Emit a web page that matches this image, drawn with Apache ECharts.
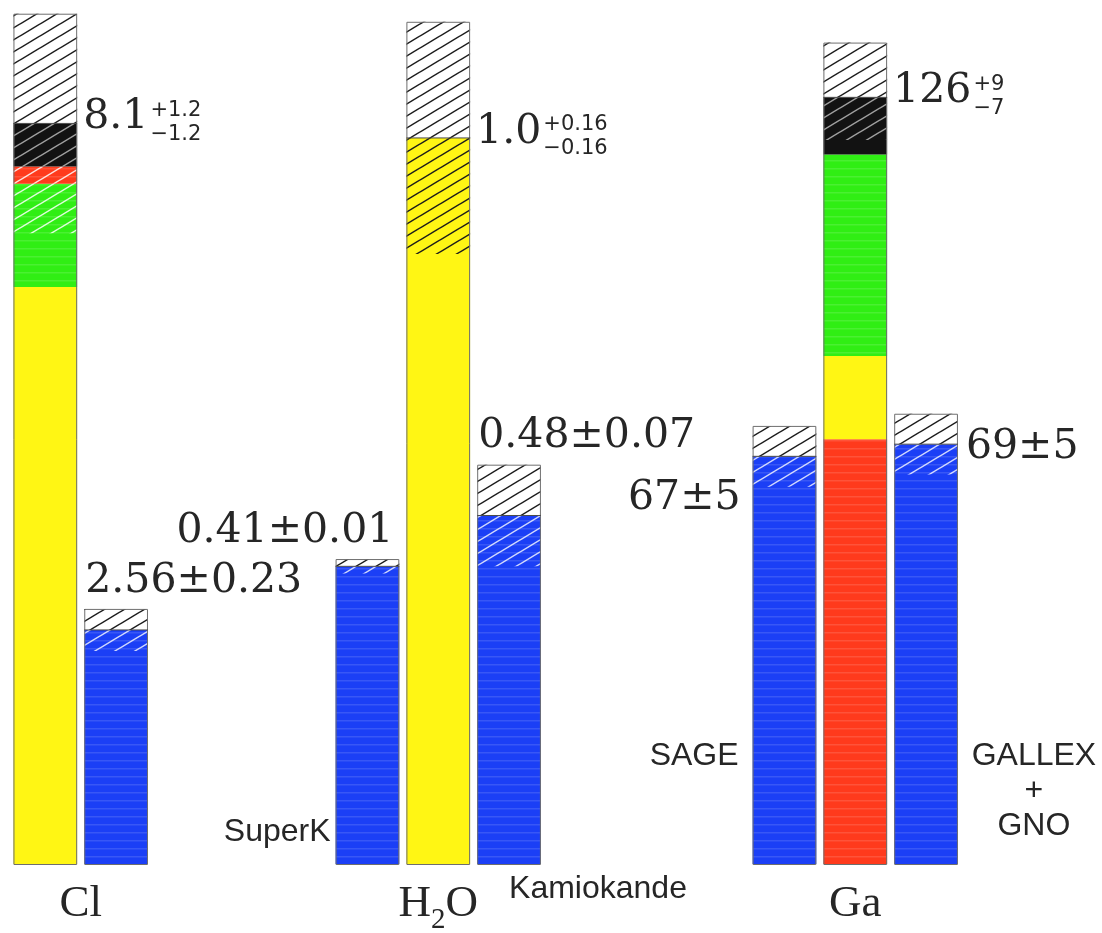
<!DOCTYPE html>
<html>
<head>
<meta charset="utf-8">
<title>Solar neutrino rates: theory vs experiment</title>
<script src="https://cdn.jsdelivr.net/npm/echarts@6/dist/echarts.min.js"></script>
<style>
  html, body { margin: 0; padding: 0; background: #ffffff; }
  #chart { width: 1102px; height: 933px; }
</style>
</head>
<body>
<div id="chart"></div>
<script>
// ---- Targets -------------------------------------------------------------
const targets = ['Cl', 'H2O', 'Ga'];

// ---- Standard solar model contributions (stacked bottom to top) ----------
const clSources = ['8B', '7Be', 'pep', 'CNO'];
const clFlux = [6.31, 1.13, 0.19, 0.47];          // SNU
const h2oSources = ['8B'];
const h2oFlux = [1.0];                             // relative to model
const gaSources = ['pp', '8B', '7Be', 'CNO'];
const gaFlux = [69.8, 13.7, 33.1, 9.4];           // SNU

// ---- Model totals and asymmetric uncertainties ---------------------------
const theoryTotal = [8.1, 1.0, 126];
const theoryPlus = [1.2, 0.16, 9];
const theoryMinus = [1.2, 0.16, 7];
const theoryDecimals = [1, 1, 0];
const theoryErrDecimals = [1, 2, 0];

// ---- Measurements --------------------------------------------------------
const expNames = ['Homestake', 'SuperK', 'Kamiokande', 'SAGE', 'GALLEX + GNO'];
const expTarget = [0, 1, 1, 2, 2];
const expValue = [2.56, 0.41, 0.48, 67, 69];
const expError = [0.23, 0.01, 0.07, 5, 5];
const expDecimals = [2, 2, 2, 0, 0];

// ---- Layout: bar slots along x, vertical range of each target's scale ----
const theorySlot = [0, 5.55, 11.44];
const expSlotOffset = [1, -1, 1, -1, 1];
const expLabelPlace = ['above', 'aboveRight', 'above', 'left', 'right'];
const expNamePlace = ['none', 'leftLow', 'below', 'left', 'right'];
const yMax = [9.45, 1.19, 142];
const BAR = 0.9;

// ---- Styling -------------------------------------------------------------
const sourceColor = { pp: '#ff3a1c', pep: '#ff3a1c', '8B': '#fff614', '7Be': '#30ee14', CNO: '#121212' };
const sourceInk = { pp: 'rgba(255,255,255,0.85)', pep: 'rgba(255,255,255,0.85)', '8B': '#1c1c1c',
                    '7Be': 'rgba(255,255,255,0.85)', CNO: '#a0a0a0' };
const sourceBanded = { pp: true, pep: true, '8B': false, '7Be': true, CNO: false };
const expColor = '#1b3ff6';
const expInk = 'rgba(255,255,255,0.8)';
const textColor = '#262626';
const numFont = 'DejaVu Serif';
const supFont = 'DejaVu Sans';
const nameFont = 'Liberation Sans';
const targetFont = 'Liberation Serif';

// Diagonal hatch fill ("/" lines), cached per ink colour
const hatchCache = {};
function hatch(ink) {
  if (hatchCache[ink]) return hatchCache[ink];
  const W = 20, H = 12;
  const c = document.createElement('canvas');
  c.width = W; c.height = H;
  const ctx = c.getContext('2d');
  ctx.strokeStyle = ink;
  ctx.lineWidth = 1.5;
  for (let k = -1; k <= 1; k++) {
    ctx.beginPath();
    ctx.moveTo(-W, 2 * H + k * H);
    ctx.lineTo(2 * W, -H + k * H);
    ctx.stroke();
  }
  return (hatchCache[ink] = { image: c, repeat: 'repeat' });
}

// Faint horizontal banding on the saturated fills
const banding = (function () {
  const c = document.createElement('canvas');
  c.width = 4; c.height = 8;
  const ctx = c.getContext('2d');
  ctx.fillStyle = 'rgba(255,255,255,0.13)';
  ctx.fillRect(0, 0, 4, 1.5);
  return { image: c, repeat: 'repeat' };
})();

const measureCtx = document.createElement('canvas').getContext('2d');
function textWidth(t, font) { measureCtx.font = font; return measureCtx.measureText(t).width; }

function rect(x, y, w, h, fill) {
  return { type: 'rect', shape: { x: x, y: y, width: w, height: h }, style: { fill: fill }, silent: true };
}
function outline(x, y, w, h) {
  return { type: 'rect', shape: { x: x + 0.5, y: y + 0.5, width: w - 1, height: h },
           style: { fill: 'none', stroke: '#6e6e6e', lineWidth: 1 }, silent: true };
}
function hline(x, y, w) {
  return { type: 'line', shape: { x1: x, y1: y, x2: x + w, y2: y },
           style: { stroke: '#4a4a4a', lineWidth: 1 }, silent: true };
}
function text(str, x, y, size, family, align) {
  return {
    type: 'text', x: x, y: y, silent: true,
    style: {
      text: str, fill: textColor, font: size + 'px "' + family + '"',
      align: align, textAlign: align, verticalAlign: 'middle', textVerticalAlign: 'middle'
    }
  };
}

// Centre slot of each target's group of bars
function groupCentre(g) {
  const slots = [theorySlot[g]];
  expTarget.forEach((t, i) => { if (t === g) slots.push(theorySlot[g] + expSlotOffset[i]); });
  return (Math.min.apply(null, slots) + Math.max.apply(null, slots)) / 2;
}

// Target name below the baseline, with chemical subscripts
function targetLabel(name, cx, cy) {
  const big = 45, small = 29;
  const parts = name.match(/[A-Za-z]+|\d+/g);
  const fonts = parts.map(p => /\d/.test(p) ? small + 'px "' + targetFont + '"' : big + 'px "' + targetFont + '"');
  const widths = parts.map((p, i) => textWidth(p, fonts[i]));
  let x = cx - widths.reduce((a, b) => a + b, 0) / 2;
  return parts.map((p, i) => {
    const sub = /\d/.test(p);
    const el = text(p, x, cy + (sub ? 16 : 0), sub ? small : big, targetFont, 'left');
    x += widths[i];
    return el;
  });
}

// Model bar: stacked sources, hatched uncertainty band, value label
function theoryRenderer(sources, flux) {
  return function (params, api) {
    const slot = api.value(0), total = api.value(1), plus = api.value(2), minus = api.value(3);
    const g = api.value(4);
    const w = api.size([BAR, 0])[0];
    const x0 = api.coord([slot, 0])[0] - w / 2;
    const y = v => api.coord([slot, v])[1];
    const kids = [];
    let acc = 0;
    flux.forEach((f, i) => {
      const a = acc, b = acc + f;
      acc = b;
      const s = sources[i];
      kids.push(rect(x0, y(b), w, y(a) - y(b), sourceColor[s]));
      if (sourceBanded[s]) kids.push(rect(x0, y(b), w, y(a) - y(b), banding));
      const lo = Math.max(a, total - minus), hi = Math.min(b, total);
      if (hi > lo) kids.push(rect(x0, y(hi), w, y(lo) - y(hi), hatch(sourceInk[s])));
    });
    kids.push(rect(x0, y(total + plus), w, y(total) - y(total + plus), '#ffffff'));
    kids.push(rect(x0, y(total + plus), w, y(total) - y(total + plus), hatch('#1c1c1c')));
    kids.push(outline(x0, y(total + plus), w, y(0) - y(total + plus)));
    kids.push(hline(x0, y(total), w));

    // value with super/subscript uncertainties
    const yc = y(total);
    const main = total.toFixed(theoryDecimals[g]);
    const mx = x0 + w + 6;
    kids.push(text(main, mx, yc - 6, 41, numFont, 'left'));
    const sx = mx + textWidth(main, '41px "' + numFont + '"') + 2;
    kids.push(text('+' + plus.toFixed(theoryErrDecimals[g]), sx, yc - 13, 21, supFont, 'left'));
    kids.push(text('\u2212' + minus.toFixed(theoryErrDecimals[g]), sx, yc + 11, 21, supFont, 'left'));

    // target name under the group
    const cx = api.coord([groupCentre(g), 0])[0];
    targetLabel(targets[g], cx, y(0) + 40).forEach(el => kids.push(el));
    return { type: 'group', children: kids };
  };
}

// Measured bar: blue rate, hatched error band, value and experiment labels
function expRenderer(params, api) {
  const slot = api.value(0), v = api.value(1), e = api.value(2), i = api.value(3);
  const w = api.size([BAR, 0])[0];
  const x0 = api.coord([slot, 0])[0] - w / 2;
  const y = val => api.coord([slot, val])[1];
  const kids = [];
  kids.push(rect(x0, y(v), w, y(0) - y(v), expColor));
  kids.push(rect(x0, y(v), w, y(0) - y(v), banding));
  kids.push(rect(x0, y(v), w, y(v - e) - y(v), hatch(expInk)));
  kids.push(rect(x0, y(v + e), w, y(v) - y(v + e), '#ffffff'));
  kids.push(rect(x0, y(v + e), w, y(v) - y(v + e), hatch('#1c1c1c')));
  kids.push(outline(x0, y(v + e), w, y(0) - y(v + e)));
  kids.push(hline(x0, y(v), w));

  const d = expDecimals[i];
  const label = v.toFixed(d) + '\u00b1' + e.toFixed(d);
  const place = expLabelPlace[i];
  if (place === 'above') kids.push(text(label, x0 + 1, y(v + e) - 28, 41, numFont, 'left'));
  else if (place === 'aboveRight') kids.push(text(label, x0 + w - 6, y(v + e) - 28, 41, numFont, 'right'));
  else if (place === 'left') kids.push(text(label, x0 - 12, y(v - e) + 12, 41, numFont, 'right'));
  else if (place === 'right') kids.push(text(label, x0 + w + 8, y(v) + 3, 41, numFont, 'left'));

  const name = expNames[i];
  const np = expNamePlace[i];
  const base = y(0);
  if (np === 'leftLow') kids.push(text(name, x0 - 5, base - 32, 32, nameFont, 'right'));
  else if (np === 'below') kids.push(text(name, x0 + w / 2, base + 25, 32, nameFont, 'left'));
  else if (np === 'left') kids.push(text(name, x0 - 14, base - 108, 32, nameFont, 'right'));
  else if (np === 'right') {
    const lines = name.split(' ');
    lines.forEach((ln, k) => kids.push(text(ln, x0 + w + 76, base - 108 + k * 35, 32, nameFont, 'center')));
  }
  return { type: 'group', children: kids };
}

const theoryParts = [[clSources, clFlux], [h2oSources, h2oFlux], [gaSources, gaFlux]];
const series = [];
targets.forEach((t, g) => {
  series.push({
    type: 'custom', name: t + ' model', xAxisIndex: 0, yAxisIndex: g,
    clip: false, silent: true, animation: false,
    renderItem: theoryRenderer(theoryParts[g][0], theoryParts[g][1]),
    data: [[theorySlot[g], theoryTotal[g], theoryPlus[g], theoryMinus[g], g]]
  });
  const rows = [];
  expTarget.forEach((tg, i) => {
    if (tg === g) rows.push([theorySlot[g] + expSlotOffset[i], expValue[i], expError[i], i]);
  });
  series.push({
    type: 'custom', name: t + ' measured', xAxisIndex: 0, yAxisIndex: g,
    clip: false, silent: true, animation: false,
    renderItem: expRenderer, data: rows
  });
});

const chart = echarts.init(document.getElementById('chart'), null, { renderer: 'canvas' });
chart.setOption({
  backgroundColor: '#ffffff',
  animation: false,
  grid: { left: 0, right: 0, top: 0, bottom: 69 },
  xAxis: { type: 'value', min: -0.64, max: 14.925, show: false },
  yAxis: yMax.map(m => ({ type: 'value', min: 0, max: m, show: false })),
  series: series
});
</script>
</body>
</html>
